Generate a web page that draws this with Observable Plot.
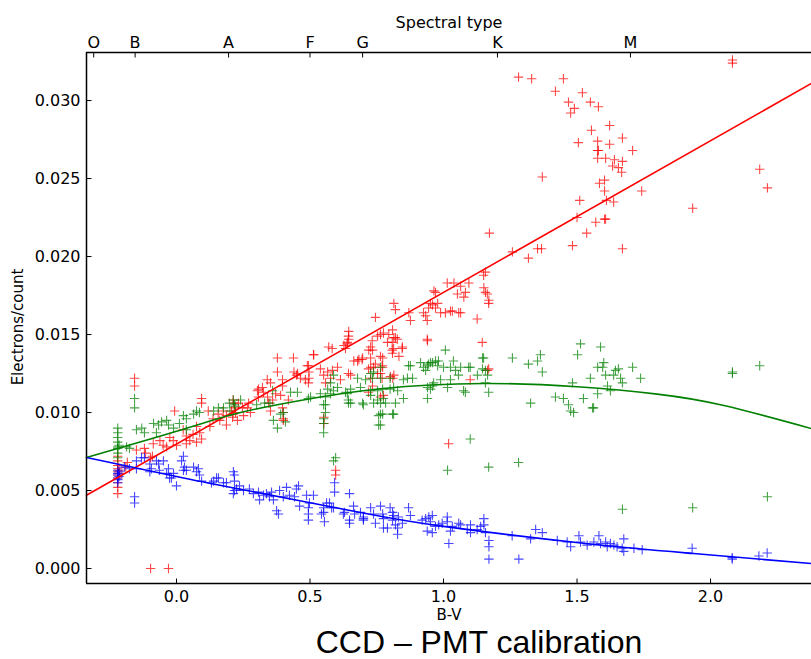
<!DOCTYPE html>
<html><head><meta charset="utf-8">
<script src="https://cdn.jsdelivr.net/npm/d3@7"></script>
<script src="https://cdn.jsdelivr.net/npm/@observablehq/plot@0.6"></script>
<style>
body{margin:0;background:#fff;}
#wrap{position:relative;width:811px;height:659px;overflow:hidden;}
#title{position:absolute;left:479px;top:626px;transform:translateX(-50%);white-space:nowrap;font-family:"Liberation Sans",Arial,sans-serif;font-size:32px;line-height:32px;color:#000;}
</style></head><body>
<div id="wrap"><div id="chart"></div><div id="title">CCD – PMT calibration</div></div>
<script>
// ---------- data ----------
const xTicks = [0.0, 0.5, 1.0, 1.5, 2.0];
const yTicks = [0.000, 0.005, 0.010, 0.015, 0.020, 0.025, 0.030];
const spectralTypes = ["O","B","A","F","G","K","M"];
const spectralBV = [-0.31, -0.155, 0.195, 0.5, 0.697, 1.202, 1.70];
const xDomain = [-0.337, 2.378];
const yDomain = [-0.00096, 0.03308];

const redPts = [
[-0.22,.0072],[-0.22,.0069],[-0.22,.0066],[-0.22,.0064],[-0.22,.0062],[-0.22,.0060],[-0.22,.0058],[-0.22,.0055],[-0.22,.0052],[-0.22,.0048],[-0.215,.0063],[-0.215,.0061],
[-0.157,.0122],[-0.157,.0117],[-0.097,0],[-0.03,0],
[-0.19,.0065],[-0.184,.0068],[-0.15,.0076],[-0.12,.0077],[-0.116,.0074],[-0.097,.0071],[-0.09,.0072],[-0.087,.0080],[-0.062,.0082],[-0.05,.0079],[-0.037,.0078],[-0.025,.0084],[-0.012,.0082],[0,.0079],[-0.007,.0101],[0.025,.0089],[0.037,.0085],[0.037,.0080],[0.05,.0082],[0.062,.0086],[0.075,.0091],[0.075,.0081],[0.087,.0087],[0.094,.0083],[0.094,.0109],[0.094,.0106],[0.119,.0101],[0.125,.0091],[0.137,.0096],[0.156,.0099],[0.162,.0095],[0.175,.0101],[0.187,.0098],[0.187,.0092],[0.206,.0101],[0.212,.0108],[0.218,.0103],[0.212,.0099],
[0.213,.0106],[0.232,.0106],[0.247,.0103],[0.221,.0100],[0.251,.0098],[0.266,.0103],[0.21,.0097],[0.228,.0095],[0.27,.0106],[0.277,.0100],
[0.303,.0114],[0.322,.0116],[0.326,.0113],[0.307,.0110],[0.341,.0110],[0.345,.0106],[0.352,.0101],[0.36,.0108],[0.371,.0112],[0.39,.0111],[0.397,.0103],[0.40,.0100],[0.419,.0108],[0.40,.0096],[0.40,.0095],
[0.378,.0135],[0.438,.0135],[0.513,.0137],[0.494,.0130],[0.378,.0126],[0.44,.0126],[0.45,.0124],[0.352,.0119],[0.307,.0115],[0.397,.0121],[0.397,.0117],[0.34,.0121],
[0.453,.0125],[0.464,.0122],[0.483,.0121],[0.494,.0119],[0.49,.0130],[0.514,.0137],[0.496,.0126],[0.496,.0122],[0.551,.0124],[0.566,.0126],[0.577,.0122],[0.558,.0119],[0.539,.0128],[0.584,.0127],[0.603,.0129],[0.614,.0121],[0.552,.0097],[0.552,.0093],[0.596,.0063],[0.596,.0060],[0.57,.0142],[0.583,.0141],[0.627,.0143],[0.639,.0144],[0.645,.0152],[0.645,.0147],[0.633,.0141],[0.64,.0145],[0.644,.0149],[0.664,.0133],[0.683,.0134],[0.695,.0134],[0.678,.0133],[0.697,.0135],[0.644,.0125],[0.652,.0124],[0.727,.0142],[0.733,.0146],[0.72,.0140],[0.727,.0129],[0.734,.0140],[0.727,.0135],[0.745,.0131],[0.719,.0128],[0.727,.0122],[0.734,.0117],[0.719,.0113],[0.753,.0125],
[0.764,.0136],[0.77,.0130],[0.764,.0125],[0.77,.0122],[0.764,.0150],[0.795,.0150],[0.808,.0145],[0.814,.0148],[0.827,.0147],[0.845,.0141],[0.808,.0140],[0.833,.0136],[0.814,.0124],[0.801,.0123],[0.745,.0161],[0.814,.0170],[0.82,.0166],[0.87,.0164],[0.876,.0159],[0.939,.0147],[0.939,.0159],[0.933,.0162],[0.925,.0164],[0.944,.0167],[0.951,.0170],[0.959,.0169],[0.97,.0167],[0.978,.0170],[0.989,.0164],[0.964,.0178],[0.97,.0177],[1.014,.0183],[1.039,.0183],[1.064,.0181],[1.076,.0174],[1.082,.0177],[1.095,.0183],[1.052,.0176],[1.007,.0164],[1.033,.0165],[1.057,.0164],[1.026,.0165],[1.064,.0164],[1.126,.0160],[1.145,.0145],[1.151,.0180],[1.157,.0177],[1.17,.0172],[1.164,.0176],[1.15,.0188],[1.157,.0190],[1.169,.0170],[0.94,.0146],[0.772,.0135],[0.772,.0129],[0.738,.0129],[0.81,.0122],[0.775,.0111],[0.764,.0110],[0.79,.0145],[0.813,.0141],[0.809,.0138],[0.846,.0142],[0.753,.0149],[0.775,.0151],[0.809,.0153],[0.82,.0148],
[1.10,.0121],[1.165,.0127],[1.169,.0128],[1.019,.0080],[1.172,.0215],
[1.258,.0203],[1.318,.0199],[1.352,.0205],[1.367,.0205],[1.37,.0251],[1.483,.0207],[1.536,.0215],[1.50,.0225],[1.57,.0222],[1.603,.0224],[1.607,.0224],[1.51,.0236],[1.61,.0236],[1.637,.0235],[1.742,.0242],[1.584,.0247],[1.603,.0249],[1.603,.0242],[1.67,.0205],[1.577,.0263],[1.607,.0263],[1.64,.0262],[1.67,.0261],[1.633,.0258],[1.655,.0257],[1.667,.0254],[1.577,.0268],[1.58,.0268],[1.708,.0268],[1.505,.0273],[1.577,.0274],[1.622,.0272],[1.67,.0276],[1.554,.0281],[1.622,.0284],[1.55,.0299],[1.58,.0296],[1.468,.0299],[1.49,.0295],[1.476,.0292],[1.419,.0306],[1.52,.0305],[1.281,.0315],[1.33,.0314],[1.449,.0314],[1.933,.0231],[2.184,.0256],[2.213,.0244],[2.082,.0326],[2.082,.0324]
];

const greenPts = [
[-0.22,.0090],[-0.22,.0087],[-0.22,.0084],[-0.22,.0081],[-0.22,.0078],[-0.22,.0077],[-0.22,.0074],[-0.22,.0071],[-0.215,.0079],
[-0.157,.0109],[-0.157,.0103],
[-0.187,.0078],[-0.176,.0077],[-0.15,.0089],[-0.13,.0090],[-0.12,.0087],[-0.086,.0093],[-0.067,.0092],[-0.056,.0094],[-0.037,.0095],[-0.03,.0092],[-0.011,.0090],[-0.075,.0087],[0.026,.0098],[0.037,.0096],[0.064,.0099],[0.075,.0101],[0.086,.0100],[0.011,.0093],[0.037,.0089],[0.139,.0101],[0.157,.0103],[0.176,.0103],[0.198,.0106],[0.213,.0108],[0.217,.0105],
[0.2,.0101],[0.22,.0104],[0.24,.0108],[0.3,.0105],[0.33,.0106],[0.35,.0106],[0.363,.0095],[0.39,.0099],[0.40,.0100],[0.408,.0094],[0.378,.0090],[0.36,.0114],[0.427,.0113],[0.453,.0113],[0.494,.0109],[0.502,.0110],[0.539,.0112],[0.566,.0115],[0.558,.0105],[0.558,.0100],[0.551,.0096],[0.551,.0087],[0.596,.0071],[0.588,.0069],[0.588,.0124],[0.577,.0119],[0.633,.0113],[0.652,.0115],[0.644,.0108],[0.644,.0106],[0.697,.0106],[0.70,.0105],[0.727,.0111],[0.727,.0114],[0.753,.0114],[0.753,.0108],[0.757,.0098],[0.757,.0092],[0.678,.0122],[0.708,.0121],[0.727,.0125],
[0.558,.0110],[0.577,.0112],[0.588,.0114],[0.551,.0105],[0.551,.0093],[0.603,.0116],[0.64,.0112],[0.652,.0106],[0.689,.0116],[0.764,.0106],[0.764,.0099],[0.764,.0092],[0.813,.0099],[0.82,.0106],[0.813,.0116],[0.772,.0115],[0.764,.0122],[0.764,.0129],[0.80,.0122],[0.865,.0122],[0.876,.0130],[0.94,.0130],[0.951,.0132],[0.97,.0133],[0.978,.0130],[1.007,.0140],[1.037,.0133],[1.026,.0129],[1.045,.0127],[1.056,.0124],[1.094,.0129],[1.146,.0135],[1.146,.0128],[1.165,.0124],[1.169,.0113],[1.075,.0114],[1.015,.0116],[0.963,.0119],[0.94,.0116],[0.94,.0109],
[0.914,.0132],[0.925,.0129],[0.944,.0131],[0.959,.0132],[0.981,.0133],[0.933,.0127],[0.869,.0130],[0.884,.0122],[0.85,.0121],[1.0,.0129],[1.064,.0129],[1.10,.0129],[1.127,.0124],[1.157,.0127],[1.15,.0135],[1.258,.0135],[0.989,.0121],[1.026,.0121],[0.959,.0117],[0.951,.0115],[1.082,.0113],[1.157,.0119],[0.80,.0115],[0.828,.0114],[0.772,.0099],[0.809,.0099],[0.775,.0109],[0.783,.0106],[0.85,.0109],[0.738,.0106],[0.734,.0122],[0.738,.0126],
[1.015,.0063],[1.10,.0083],[1.169,.0065],[1.281,.0068],
[1.326,.0106],[1.318,.0131],[1.352,.0133],[1.363,.0137],[1.37,.0126],[1.419,.0110],[1.449,.0109],[1.468,.0105],[1.476,.0101],[1.487,.0100],[1.483,.0119],[1.502,.0137],[1.513,.0144],[1.524,.0109],[1.55,.0122],[1.558,.0103],[1.577,.0112],[1.588,.0142],[1.577,.0129],[1.596,.0129],[1.60,.0132],[1.607,.0124],[1.614,.0117],[1.625,.0114],[1.637,.0124],[1.644,.0127],[1.663,.0122],[1.67,.0119],[1.655,.0128],[1.708,.0129],[1.738,.0122],[1.562,.0103],
[2.082,.0126],[2.082,.0125],[2.184,.0130],[2.213,.0046],[1.67,.0038],[1.933,.0039]
];

const bluePts = [
[-0.22,.0063],[-0.22,.0061],[-0.22,.0060],[-0.22,.0058],[-0.22,.0057],[-0.22,.0055],[-0.215,.0062],[-0.215,.0059],
[-0.157,.0046],[-0.157,.0042],
[-0.195,.0065],[-0.176,.0064],[-0.15,.0069],[-0.131,.0071],[-0.12,.0071],[-0.15,.0064],[-0.1,.0067],[-0.094,.0064],[-0.075,.0069],[-0.067,.0067],[-0.064,.0063],[-0.1,.0062],[-0.037,.0061],[-0.026,.0058],[-0.019,.0058],[-0.03,.0064],[-0.011,.0061],[0,.0053],[-0.049,.0069],[0.019,.0069],[0.03,.0065],[0.026,.0063],[0.037,.0063],[0.026,.0072],[0.064,.0065],[0.082,.0064],[0.086,.0060],[0.094,.0056],[0.075,.0062],[0.139,.0056],[0.157,.0058],[0.176,.0055],[0.187,.0055],[0.213,.0062],[0.217,.0060],[0.213,.0048],
[0.131,.0055],[0.15,.0058],[0.217,.0056],[0.217,.0050],[0.236,.0053],[0.251,.0050],[0.225,.0051],
[0.273,.0051],[0.288,.0048],[0.307,.0049],[0.311,.0044],[0.326,.0047],[0.337,.0048],[0.348,.0046],[0.363,.0044],[0.356,.0049],[0.375,.0037],[0.382,.0035],[0.386,.0050],[0.40,.0046],[0.412,.0052],[0.423,.0047],[0.442,.0046],[0.449,.0051],[0.457,.0053],[0.461,.0040],
[0.487,.0047],[0.498,.0042],[0.494,.0039],[0.494,.0035],[0.494,.0031],[0.513,.0047],[0.551,.0039],[0.562,.0042],[0.573,.0042],[0.588,.0039],[0.551,.0036],[0.554,.0030],[0.543,.0035],[0.581,.0039],[0.625,.0035],[0.629,.0036],[0.648,.0048],[0.663,.0040],[0.648,.0031],[0.648,.0029],[0.667,.0035],[0.70,.0033],[0.70,.0031],[0.592,.0055],[0.592,.0049],
[0.689,.0036],[0.70,.0032],[0.727,.0039],[0.738,.0035],[0.764,.0040],[0.772,.0035],[0.775,.0032],[0.745,.0029],[0.775,.0026],[0.79,.0026],[0.80,.0039],[0.809,.0036],[0.813,.0034],[0.809,.0031],[0.82,.0028],[0.828,.0026],[0.828,.0022],[0.846,.0029],[0.869,.0039],[0.876,.0034],[0.831,.0033],
[0.92,.0031],[0.933,.0032],[0.945,.0033],[0.951,.0030],[0.958,.0034],[0.939,.0024],[0.958,.0023],[0.97,.0027],[0.982,.0028],[0.995,.0029],[1.014,.0033],[1.014,.0030],[1.026,.0024],[1.033,.0027],[1.057,.0029],[1.064,.0028],[1.089,.0025],[1.101,.0028],[1.101,.0023],[1.126,.0025],[1.139,.0027],[1.151,.0032],[1.151,.0028],[1.157,.0023],[1.17,.0018],[1.17,.0014],[1.17,.0006],[1.02,.0016],[1.257,.0021],[1.282,.0006],[1.326,.0019],[1.345,.0025],[1.37,.0023],[1.426,.0018],[1.463,.0017],[1.476,.0014],[1.507,.0021],[1.513,.0017],[1.538,.0015],[1.563,.0017],[1.582,.0021],[1.588,.0016],[1.607,.0017],[1.613,.0014],[1.625,.0016],[1.638,.0015],[1.65,.0014],[1.675,.0019],[1.669,.0013],[1.675,.0011],[1.713,.0013],[1.744,.0012],[1.931,.0013],[2.081,.0006],[2.081,.0007],[2.181,.0008],[2.212,.0010]
];

// fitted curves
const redFitX = [-0.337, 2.378];
const redFitY = [0.0047, 0.0311];
const greenFitX = [-0.337, 0, 0.225, 0.464, 0.764, 1.15, 1.5, 1.8, 2.05, 2.378];
const greenFitY = [0.00712, 0.0088, 0.00994, 0.01077, 0.01152, 0.01186, 0.01165, 0.01118, 0.01045, 0.00897];
const blueFitX = [-0.337, 0, 0.225, 0.689, 1.0, 1.532, 1.936, 2.378];
const blueFitY = [0.00712, 0.0059, 0.00513, 0.00359, 0.0027, 0.0016, 0.00096, 0.00032];

// ---------- drawing ----------
const zipXY = (xs, ys) => xs.map((x, i) => [x, ys[i]]);
const plusSym = {draw(ctx, size){const r = Math.sqrt(size / Math.PI); ctx.moveTo(-r,0); ctx.lineTo(r,0); ctx.moveTo(0,-r); ctx.lineTo(0,r);}};
const tickUp = {draw(ctx){ctx.moveTo(0,0); ctx.lineTo(0,-5);}};
const tickDown = {draw(ctx){ctx.moveTo(0,0); ctx.lineTo(0,5);}};
const tickRight = {draw(ctx){ctx.moveTo(0,0); ctx.lineTo(5,0);}};
const specMap = new Map(spectralBV.map((v, i) => [v, spectralTypes[i]]));
const C = {red: "#ff0000", green: "#008000", blue: "#0000ff"};
const pts = (data, color) => Plot.dot(data, {x: d => d[0], y: d => d[1], symbol: plusSym, r: 4.7, fill: "none", stroke: color, strokeWidth: 1.1, strokeOpacity: 0.72});
const fit = (xs, ys, color) => Plot.line(zipXY(xs, ys), {x: d => d[0], y: d => d[1], stroke: color, strokeWidth: 1.6, curve: "natural"});

const chart = Plot.plot({
  width: 811, height: 626,
  marginTop: 52, marginBottom: 43, marginLeft: 86, marginRight: 0,
  style: {fontFamily: "DejaVu Sans", fontSize: "16px", color: "#000", background: "#fff"},
  x: {domain: xDomain},
  y: {domain: yDomain},
  marks: [
    pts(redPts, C.red),
    pts(greenPts, C.green),
    pts(bluePts, C.blue),
    fit(redFitX, redFitY, C.red),
    fit(greenFitX, greenFitY, C.green),
    fit(blueFitX, blueFitY, C.blue),
    Plot.ruleX([xDomain[0]], {stroke: "#000", strokeWidth: 1.5}),
    Plot.ruleY([yDomain[0], yDomain[1]], {stroke: "#000", strokeWidth: 1.5}),
    Plot.dot(xTicks, {x: d => d, y: () => yDomain[0], symbol: tickUp, stroke: "#000", strokeWidth: 1}),
    Plot.dot(spectralBV, {x: d => d, y: () => yDomain[1], symbol: tickDown, stroke: "#000", strokeWidth: 1}),
    Plot.dot(yTicks, {x: () => xDomain[0], y: d => d, symbol: tickRight, stroke: "#000", strokeWidth: 1}),
    Plot.axisX({ticks: xTicks, tickFormat: d3.format(".1f"), tickSize: 0, tickPadding: 7, label: null}),
    Plot.axisX({anchor: "top", ticks: spectralBV, tickFormat: d => specMap.get(d), tickSize: 0, tickPadding: 5, label: null}),
    Plot.axisY({ticks: yTicks, tickFormat: d3.format(".3f"), tickSize: 0, tickPadding: 6, label: null}),
    Plot.text(["Electrons/count"], {frameAnchor: "left", dx: -68, dy: 9, rotate: -90, textAnchor: "middle", text: d => d, fontSize: 15}),
    Plot.text(["B-V"], {frameAnchor: "bottom", dy: 36, textAnchor: "middle", text: d => d, fontSize: 15}),
    Plot.text(["Spectral type"], {frameAnchor: "top", dy: -36, textAnchor: "middle", text: d => d, fontSize: 16})
  ]
});
document.getElementById("chart").appendChild(chart);
</script>
</body></html>
